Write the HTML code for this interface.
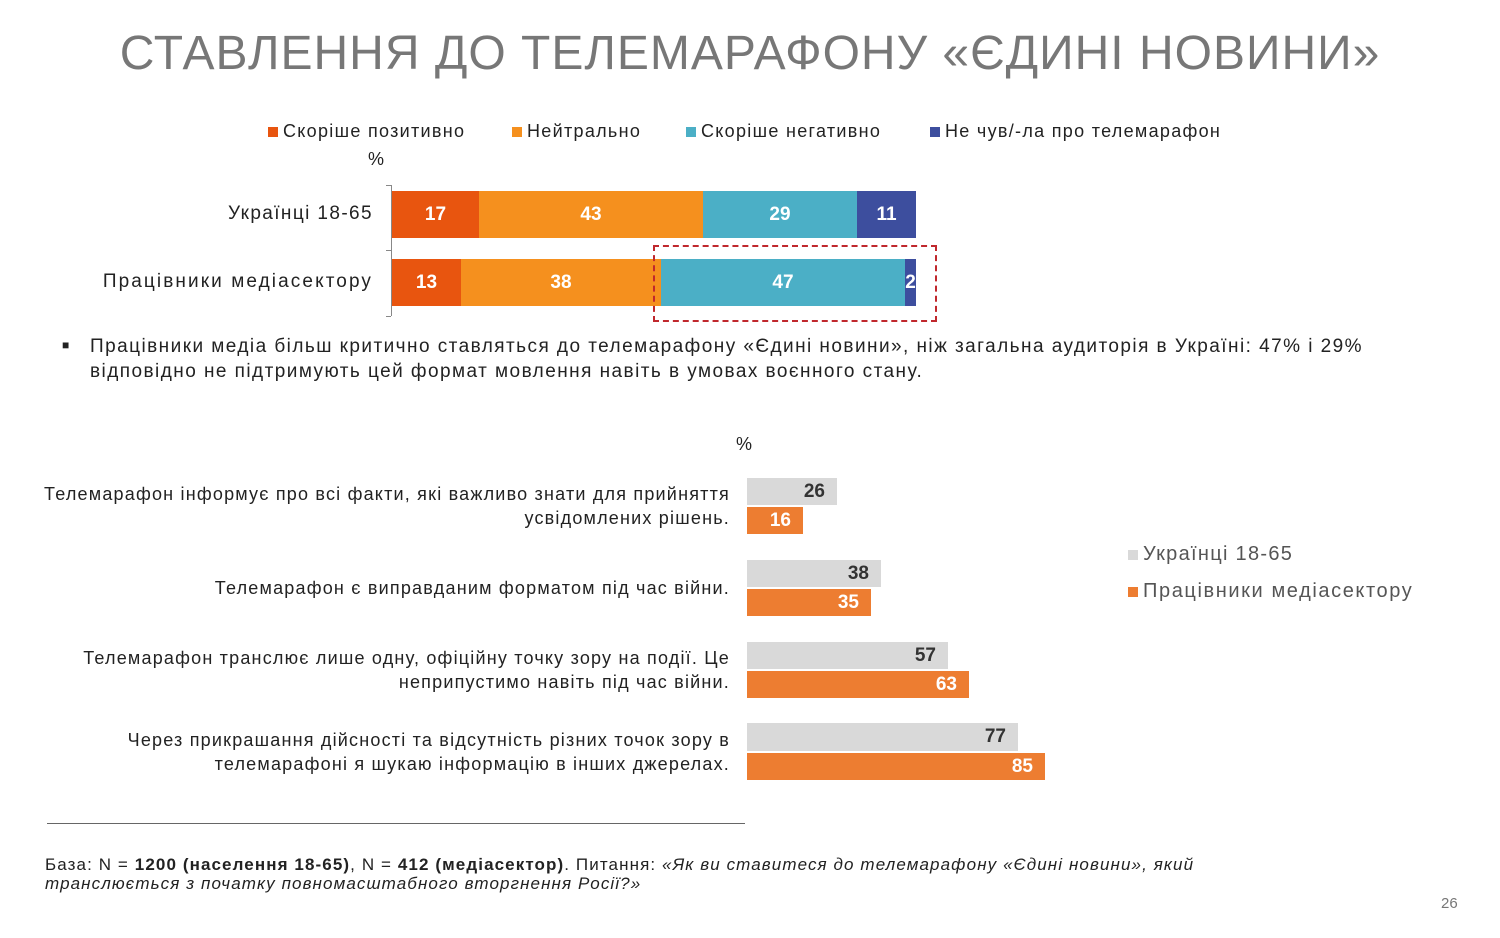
<!DOCTYPE html>
<html><head><meta charset="utf-8"><style>
body{margin:0;width:1500px;height:938px;background:#fff;position:relative;overflow:hidden;font-family:"Liberation Sans",sans-serif;color:#222}
.a{position:absolute}
.t{white-space:nowrap}
.b{position:absolute;color:#fff;font-weight:bold;font-size:19px;display:flex;align-items:center;justify-content:center}
.g{position:absolute;background:#d9d9d9;color:#333;font-weight:bold;font-size:19px;text-align:right;box-sizing:border-box;padding-right:12px;line-height:27px}
.o{position:absolute;background:#ed7d31;color:#fff;font-weight:bold;font-size:19px;text-align:right;box-sizing:border-box;padding-right:12px;line-height:27px}
.lab{position:absolute;right:770px;text-align:right;font-size:18px;line-height:24px;color:#222;letter-spacing:1.2px;white-space:nowrap}
.sq{display:inline-block;width:10px;height:10px;margin-right:5px}
.lg{letter-spacing:1.3px}
</style></head><body>
<div class="a t" style="left:0;width:1500px;top:26px;text-align:center;font-size:48px;color:#777;letter-spacing:1px">СТАВЛЕННЯ ДО ТЕЛЕМАРАФОНУ «ЄДИНІ НОВИНИ»</div>
<div class="a t lg" style="left:268px;top:121px;font-size:18px"><span class="sq" style="background:#e8550f"></span>Скоріше позитивно</div>
<div class="a t lg" style="left:512px;top:121px;font-size:18px"><span class="sq" style="background:#f5901e"></span>Нейтрально</div>
<div class="a t lg" style="left:686px;top:121px;font-size:18px"><span class="sq" style="background:#4bafc6"></span>Скоріше негативно</div>
<div class="a t lg" style="left:930px;top:121px;font-size:18px"><span class="sq" style="background:#3d4e9e"></span>Не чув/-ла про телемарафон</div>
<div class="a" style="left:368px;top:149px;font-size:18px">%</div>
<div class="a" style="left:391px;top:185px;width:1px;height:131px;background:#888"></div>
<div class="a" style="left:386px;top:185px;width:5px;height:1px;background:#888"></div>
<div class="a" style="left:386px;top:250px;width:5px;height:1px;background:#888"></div>
<div class="a" style="left:386px;top:316px;width:5px;height:1px;background:#888"></div>
<div class="a t" style="right:1127px;top:203px;font-size:19px;letter-spacing:1.4px">Українці 18-65</div>
<div class="a t" style="right:1127px;top:271px;font-size:19px;letter-spacing:2.1px">Працівники медіасектору</div>
<div class="b" style="left:392px;top:191px;width:87px;height:47px;background:#e8550f">17</div>
<div class="b" style="left:479px;top:191px;width:224px;height:47px;background:#f5901e">43</div>
<div class="b" style="left:703px;top:191px;width:154px;height:47px;background:#4bafc6">29</div>
<div class="b" style="left:857px;top:191px;width:59px;height:47px;background:#3d4e9e">11</div>
<div class="b" style="left:392px;top:259px;width:69px;height:47px;background:#e8550f">13</div>
<div class="b" style="left:461px;top:259px;width:200px;height:47px;background:#f5901e">38</div>
<div class="b" style="left:661px;top:259px;width:244px;height:47px;background:#4bafc6">47</div>
<div class="b" style="left:905px;top:259px;width:11px;height:47px;background:#3d4e9e;overflow:visible">2</div>
<div class="a" style="left:653px;top:245px;width:280px;height:73px;border:2px dashed #c0282d"></div>
<div class="a" style="left:62px;top:338px;font-size:12px">■</div>
<div class="a t" style="left:90px;top:334px;font-size:19px;line-height:25px;letter-spacing:1.45px">Працівники медіа більш критично ставляться до телемарафону «Єдині новини», ніж загальна аудиторія в Україні: 47% і 29%<br>відповідно не підтримують цей формат мовлення навіть в умовах воєнного стану.</div>
<div class="a" style="left:736px;top:434px;font-size:18px">%</div>
<div class="lab" style="top:482px">Телемарафон інформує про всі факти, які важливо знати для прийняття<br>усвідомлених рішень.</div>
<div class="lab" style="top:576px">Телемарафон є виправданим форматом під час війни.</div>
<div class="lab" style="top:646px">Телемарафон транслює лише одну, офіційну точку зору на події. Це<br>неприпустимо навіть під час війни.</div>
<div class="lab" style="top:728px">Через прикрашання дійсності та відсутність різних точок зору в<br>телемарафоні я шукаю інформацію в інших джерелах.</div>
<div class="g" style="left:747px;top:478px;width:90px;height:27px">26</div>
<div class="o" style="left:747px;top:507px;width:56px;height:27px">16</div>
<div class="g" style="left:747px;top:560px;width:134px;height:27px">38</div>
<div class="o" style="left:747px;top:589px;width:124px;height:27px">35</div>
<div class="g" style="left:747px;top:642px;width:201px;height:27px">57</div>
<div class="o" style="left:747px;top:671px;width:222px;height:27px">63</div>
<div class="g" style="left:747px;top:723px;width:271px;height:28px">77</div>
<div class="o" style="left:747px;top:753px;width:298px;height:27px">85</div>
<div class="a t" style="left:1128px;top:543px;font-size:20px;color:#555;letter-spacing:1.3px"><span class="sq" style="background:#d9d9d9"></span>Українці 18-65</div>
<div class="a t" style="left:1128px;top:580px;font-size:20px;color:#555;letter-spacing:1.6px"><span class="sq" style="background:#ed7d31"></span>Працівники медіасектору</div>
<div class="a" style="left:47px;top:823px;width:698px;height:1px;background:#666"></div>
<div class="a t" style="left:45px;top:855px;font-size:17px;line-height:19px;letter-spacing:1.1px">База: N = <b>1200 (населення 18-65)</b>, N = <b>412 (медіасектор)</b>. Питання: <i>«Як ви ставитеся до телемарафону «Єдині новини», який<br>транслюється з початку повномасштабного вторгнення Росії?»</i></div>
<div class="a" style="left:1441px;top:895px;font-size:15px;color:#777">26</div>
</body></html>
